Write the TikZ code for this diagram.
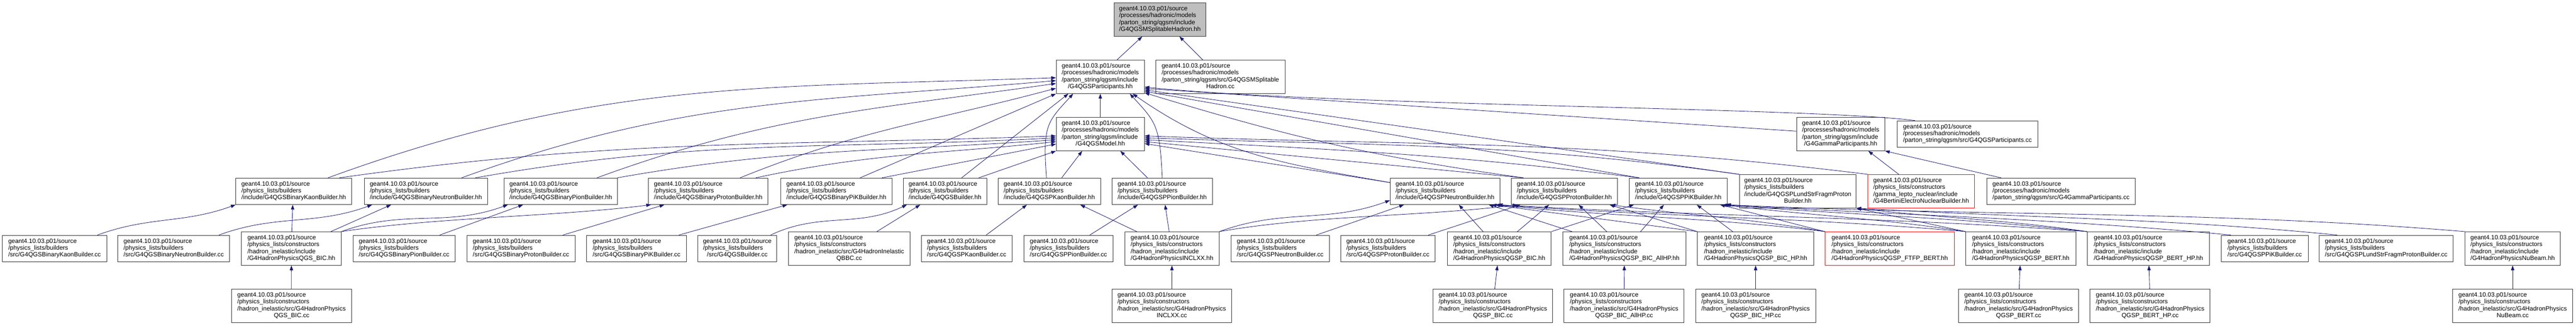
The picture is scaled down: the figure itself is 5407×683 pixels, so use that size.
\documentclass[tikz,border=0pt]{standalone}
\usepackage{fontspec}
\setmainfont{Liberation Sans}
\usepackage{tikz}
\usepackage{xcolor}
\usetikzlibrary{arrows.meta}
\definecolor{edgeblue}{HTML}{191970}
\definecolor{rootgray}{HTML}{BFBFBF}
\tikzstyle{filebox} = [draw=black!80,fill=white,rectangle,line width=1pt,
  inner xsep=3pt,inner ysep=6pt,font=\fontsize{13}{14.5}\selectfont]
\tikzstyle{rootbox} = [filebox,fill=rootgray]
\tikzstyle{cutbox} = [filebox,draw=red]
\tikzstyle{incl} = [draw=edgeblue,line width=0.9pt,-{Triangle[length=10pt,width=7pt]}]
% left aligned lines, last line centred
\newcommand{\flab}[2]{\begin{tabular}{@{}l@{}}#1\\\multicolumn{1}{@{}c@{}}{#2}\end{tabular}}
\newcommand{\gpath}{geant4.10.03.p01/source}
\newcommand{\qgsmpath}{\gpath\\/processes/hadronic/models}
\newcommand{\bldpath}{\gpath\\/physics\_lists/builders}
\newcommand{\cstpath}{\gpath\\/physics\_lists/constructors\\/hadron\_inelastic}

\begin{document}
\begin{tikzpicture}[x=1pt,y=1pt]
    \useasboundingbox[fill=white] (0,0) rectangle (5407,683);
    % headers
    \node [rootbox, minimum width=193] (splith) at (2434.5,642) {\flab{\qgsmpath\\/parton\_string/qgsm/include}{/G4QGSMSplitableHadron.hh}};
    \node [filebox, minimum width=185] (parth) at (2309.5,522) {\flab{\qgsmpath\\/parton\_string/qgsm/include}{/G4QGSParticipants.hh}};
    \node [filebox, minimum width=271] (splitcc) at (2561.5,522) {\flab{\qgsmpath\\/parton\_string/qgsm/src/G4QGSMSplitable}{Hadron.cc}};
    \node [filebox, minimum width=185] (modelh) at (2309.5,402) {\flab{\qgsmpath\\/parton\_string/qgsm/include}{/G4QGSModel.hh}};
    \node [filebox, minimum width=185] (gammah) at (3863.5,402) {\flab{\qgsmpath\\/parton\_string/qgsm/include}{/G4GammaParticipants.hh}};
    \node [filebox, minimum width=295] (partcc) at (4129.5,402) {\flab{\qgsmpath}{/parton\_string/qgsm/src/G4QGSParticipants.cc}};
    % builders
    \node [filebox, minimum width=243] (bkaonh) at (616.5,282) {\flab{\bldpath}{/include/G4QGSBinaryKaonBuilder.hh}};
    \node [filebox, minimum width=258] (bneuth) at (894,282) {\flab{\bldpath}{/include/G4QGSBinaryNeutronBuilder.hh}};
    \node [filebox, minimum width=238] (bpionh) at (1177,282) {\flab{\bldpath}{/include/G4QGSBinaryPionBuilder.hh}};
    \node [filebox, minimum width=251] (bproth) at (1486.5,282) {\flab{\bldpath}{/include/G4QGSBinaryProtonBuilder.hh}};
    \node [filebox, minimum width=233] (bpikh) at (1755.5,282) {\flab{\bldpath}{/include/G4QGSBinaryPiKBuilder.hh}};
    \node [filebox, minimum width=175] (qgsbh) at (1983.5,282) {\flab{\bldpath}{/include/G4QGSBuilder.hh}};
    \node [filebox, minimum width=215] (pkaonh) at (2202.5,282) {\flab{\bldpath}{/include/G4QGSPKaonBuilder.hh}};
    \node [filebox, minimum width=211] (ppionh) at (2439.5,282) {\flab{\bldpath}{/include/G4QGSPPionBuilder.hh}};
    \node [filebox, minimum width=230] (pneuth) at (3033,282) {\flab{\bldpath}{/include/G4QGSPNeutronBuilder.hh}};
    \node [filebox, minimum width=223] (proth) at (3283.5,282) {\flab{\bldpath}{/include/G4QGSPProtonBuilder.hh}};
    \node [filebox, minimum width=205] (ppikh) at (3522.5,282) {\flab{\bldpath}{/include/G4QGSPPiKBuilder.hh}};
    \node [filebox, minimum width=245] (plundh) at (3773.5,282) {\flab{\bldpath\\/include/G4QGSPLundStrFragmProton}{Builder.hh}};
    \node [cutbox, minimum width=223] (bertinih) at (4032.5,282) {\flab{\gpath\\/physics\_lists/constructors\\/gamma\_lepto\_nuclear/include}{/G4BertiniElectroNuclearBuilder.hh}};
    \node [filebox, minimum width=312] (gammacc) at (4326,282) {\flab{\qgsmpath}{/parton\_string/qgsm/src/G4GammaParticipants.cc}};
    % builder sources and physics constructors
    \node [filebox, minimum width=219] (bkaoncc) at (114.5,162) {\flab{\bldpath}{/src/G4QGSBinaryKaonBuilder.cc}};
    \node [filebox, minimum width=235] (bneutcc) at (364.5,162) {\flab{\bldpath}{/src/G4QGSBinaryNeutronBuilder.cc}};
    \node [filebox, minimum width=209] (qgsbich) at (611.5,162) {\flab{\cstpath/include}{/G4HadronPhysicsQGS\_BIC.hh}};
    \node [filebox, minimum width=214] (bpioncc) at (848,162) {\flab{\bldpath}{/src/G4QGSBinaryPionBuilder.cc}};
    \node [filebox, minimum width=227] (bprotcc) at (1093.5,162) {\flab{\bldpath}{/src/G4QGSBinaryProtonBuilder.cc}};
    \node [filebox, minimum width=210] (bpikcc) at (1336,162) {\flab{\bldpath}{/src/G4QGSBinaryPiKBuilder.cc}};
    \node [filebox, minimum width=165] (qgsbcc) at (1547.5,162) {\flab{\bldpath}{/src/G4QGSBuilder.cc}};
    \node [filebox, minimum width=255] (qbbccc) at (1782.5,162) {\flab{\cstpath/src/G4HadronInelastic}{QBBC.cc}};
    \node [filebox, minimum width=190] (pkaoncc) at (2029,162) {\flab{\bldpath}{/src/G4QGSPKaonBuilder.cc}};
    \node [filebox, minimum width=187] (ppioncc) at (2242.5,162) {\flab{\bldpath}{/src/G4QGSPPionBuilder.cc}};
    \node [filebox, minimum width=198] (inclxxh) at (2460,162) {\flab{\cstpath/include}{/G4HadronPhysicsINCLXX.hh}};
    \node [filebox, minimum width=206] (pneutcc) at (2687,162) {\flab{\bldpath}{/src/G4QGSPNeutronBuilder.cc}};
    \node [filebox, minimum width=198] (protcc) at (2913,162) {\flab{\bldpath}{/src/G4QGSPProtonBuilder.cc}};
    \node [filebox, minimum width=218] (qgspbich) at (3147,162) {\flab{\cstpath/include}{/G4HadronPhysicsQGSP\_BIC.hh}};
    \node [filebox, minimum width=259] (allhph) at (3409.5,162) {\flab{\cstpath/include}{/G4HadronPhysicsQGSP\_BIC\_AllHP.hh}};
    \node [filebox, minimum width=244] (bichph) at (3685,162) {\flab{\cstpath/include}{/G4HadronPhysicsQGSP\_BIC\_HP.hh}};
    \node [cutbox, minimum width=271] (ftfph) at (3966.5,162) {\flab{\cstpath/include}{/G4HadronPhysicsQGSP\_FTFP\_BERT.hh}};
    \node [filebox, minimum width=231] (berth) at (4241.5,162) {\flab{\cstpath/include}{/G4HadronPhysicsQGSP\_BERT.hh}};
    \node [filebox, minimum width=257] (berthph) at (4509.5,162) {\flab{\cstpath/include}{/G4HadronPhysicsQGSP\_BERT\_HP.hh}};
    \node [filebox, minimum width=183] (ppikcc) at (4753.5,162) {\flab{\bldpath}{/src/G4QGSPPiKBuilder.cc}};
    \node [filebox, minimum width=281] (plundcc) at (5008.5,162) {\flab{\bldpath}{/src/G4QGSPLundStrFragmProtonBuilder.cc}};
    \node [filebox, minimum width=200] (nubeamh) at (5274,162) {\flab{\cstpath/include}{/G4HadronPhysicsNuBeam.hh}};
    % physics constructor sources
    \node [filebox, minimum width=252] (qgsbiccc) at (612,42) {\flab{\cstpath/src/G4HadronPhysics}{QGS\_BIC.cc}};
    \node [filebox, minimum width=251] (inclxxcc) at (2459.5,42) {\flab{\cstpath/src/G4HadronPhysics}{INCLXX.cc}};
    \node [filebox, minimum width=251] (qgspbiccc) at (3133.5,42) {\flab{\cstpath/src/G4HadronPhysics}{QGSP\_BIC.cc}};
    \node [filebox, minimum width=252] (allhpcc) at (3409,42) {\flab{\cstpath/src/G4HadronPhysics}{QGSP\_BIC\_AllHP.cc}};
    \node [filebox, minimum width=252] (bichpcc) at (3685,42) {\flab{\cstpath/src/G4HadronPhysics}{QGSP\_BIC\_HP.cc}};
    \node [filebox, minimum width=252] (bertcc) at (4237,42) {\flab{\cstpath/src/G4HadronPhysics}{QGSP\_BERT.cc}};
    \node [filebox, minimum width=252] (berthpcc) at (4513,42) {\flab{\cstpath/src/G4HadronPhysics}{QGSP\_BERT\_HP.cc}};
    \node [filebox, minimum width=252] (nubeamcc) at (5274,42) {\flab{\cstpath/src/G4HadronPhysics}{NuBeam.cc}};

    % to the splitable hadron header
    \draw[incl] ([xshift=35pt]parth.north) -- ([xshift=-37pt]splith.south);
    \draw[incl] ([xshift=-37pt]splitcc.north) -- ([xshift=41pt]splith.south);
    % to G4QGSParticipants.hh
    \draw[incl] (modelh) -- (parth);
    \draw[incl] ([xshift=72pt]bkaonh.north) .. controls +(568,207) and +(-604,-21) .. ([yshift=-2pt]parth.west);
    \draw[incl] ([xshift=75pt]bneuth.north) .. controls +(465,169) and +(-493,-43) .. ([yshift=-8pt]parth.west);
    \draw[incl] ([xshift=76pt]bpionh.north) .. controls +(362,132) and +(-381,-54) .. ([yshift=-14pt]parth.west);
    \draw[incl] ([xshift=67pt]bproth.north) .. controls +(250,101) and +(-261,-70) .. ([yshift=-24pt]parth.west);
    \draw[incl] ([xshift=50pt]bpikh.north) -- (parth.south west);
    \draw[incl] ([xshift=35pt]qgsbh.north) -- ([xshift=-67pt]parth.south);
    \draw[incl] ([xshift=-6pt]pkaonh.north) .. controls +(-8,110) and +(-55,-60) .. ([xshift=-57pt]parth.south);
    \draw[incl] (ppionh.north) .. controls +(-5,110) and +(55,-60) .. ([xshift=62pt]parth.south);
    \draw[incl] ([yshift=-10pt]pneuth.north west) .. controls +(-221,39) and +(183,-128) .. ([xshift=68pt]parth.south);
    \draw[incl] ([xshift=-86pt]proth.north) .. controls +(-316,44) and +(305,-93) .. ([yshift=2pt]parth.south east);
    \draw[incl] ([xshift=-82pt]ppikh.north) -- ([yshift=5pt]parth.south east);
    \draw[incl] (plundh.north west) -- ([yshift=8pt]parth.south east);
    \draw[incl] ([yshift=6pt]gammah.west) -- ([yshift=11pt]parth.south east);
    \draw[incl] ([xshift=-110pt]partcc.north) .. controls +(-220,28) and +(400,-40) .. ([yshift=14pt]parth.south east);
    % to G4QGSModel.hh
    \draw[incl] ([xshift=96pt]bkaonh.north) .. controls +(584,82) and +(-590,-21) .. ([yshift=-4pt]modelh.west);
    \draw[incl] ([xshift=104pt]bneuth.north) .. controls +(471,83) and +(-477,-25) .. ([yshift=-8pt]modelh.west);
    \draw[incl] ([xshift=119pt]bpionh.north) .. controls +(357,63) and +(-361,-25) .. ([yshift=-12pt]modelh.west);
    \draw[incl] ([xshift=100pt]bproth.north) .. controls +(244,52) and +(-248,-26) .. ([yshift=-16pt]modelh.west);
    \draw[incl] ([xshift=96pt]bpikh.north) -- ([yshift=-21pt]modelh.west);
    \draw[incl] ([xshift=71pt]qgsbh.north) -- (modelh.south west);
    \draw[incl] ([xshift=26pt]pkaonh.north) -- ([xshift=-38pt]modelh.south);
    \draw[incl] ([xshift=-31pt]ppionh.north) -- ([xshift=42pt]modelh.south);
    \draw[incl] ([yshift=-10pt]pneuth.north west) -- ([yshift=-20pt]modelh.east);
    \draw[incl] ([xshift=-86pt]proth.north) -- ([yshift=-16pt]modelh.east);
    \draw[incl] ([xshift=-82pt]ppikh.north) .. controls +(-405,50) and +(407,-21) .. ([yshift=-12pt]modelh.east);
    \draw[incl] (plundh.north west) .. controls +(-485,68) and +(490,-17) .. ([yshift=-8pt]modelh.east);
    \draw[incl] (bertinih.north west) .. controls +(-592,73) and +(596,-21) .. ([yshift=-4pt]modelh.east);
    % to G4GammaParticipants.hh
    \draw[incl] ([xshift=-126pt]gammacc.north) -- (gammah.south east);
    \draw[incl] ([xshift=-47pt]bertinih.north) -- ([xshift=-35pt]gammah.south east);
    % to the QGS binary builders
    \draw[incl] ([xshift=90pt]bkaoncc.north) .. controls +(110,40) and +(-110,-40) .. (bkaonh.south west);
    \draw[incl] ([xshift=95pt]bneutcc.north) .. controls +(120,44) and +(-120,-44) .. ([xshift=-113pt]bneuth.south);
    \draw[incl] ([xshift=1pt]qgsbich.north) -- ([xshift=-2pt]bkaonh.south);
    \draw[incl] ([xshift=83pt]qgsbich.north) -- ([xshift=-73pt]bneuth.south);
    \draw[incl] (qgsbich.north east) .. controls +(131,48) and +(-131,-48) .. ([xshift=-111pt]bpionh.south);
    \draw[incl] (qgsbich.north east) .. controls +(200,30) and +(-200,-25) .. ([xshift=-120pt]bproth.south);
    \draw[incl] ([xshift=75pt]bpioncc.north) -- ([xshift=-79pt]bpionh.south);
    \draw[incl] ([xshift=88pt]bprotcc.north) -- ([xshift=-92pt]bproth.south);
    \draw[incl] ([xshift=89pt]bpikcc.north) -- ([xshift=-103pt]bpikh.south);
    \draw[incl] ([xshift=70pt]qgsbcc.north) .. controls +(104,49) and +(-104,-49) .. ([xshift=-80pt]qgsbh.south);
    \draw[incl] ([xshift=58pt]qbbccc.north) -- ([xshift=-52pt]qgsbh.south);
    % to the QGSP builders
    \draw[incl] ([xshift=41pt]pkaoncc.north) -- ([xshift=-47pt]pkaonh.south);
    \draw[incl] ([xshift=45pt]ppioncc.north) -- ([xshift=-51pt]ppionh.south);
    \draw[incl] ([xshift=-74pt]inclxxh.north) -- ([xshift=65pt]pkaonh.south);
    \draw[incl] ([xshift=-6pt]inclxxh.north) -- ([xshift=6pt]ppionh.south);
    \draw[incl] (inclxxh.north east) .. controls +(134,49) and +(-134,-49) .. ([yshift=-19pt]pneuth.west);
    \draw[incl] (inclxxh.north east) .. controls +(200,35) and +(-200,-25) .. ([xshift=-98pt]proth.south);
    \draw[incl] ([xshift=76pt]pneutcc.north) -- ([xshift=-86pt]pneuth.south);
    \draw[incl] ([xshift=85pt]protcc.north) -- ([xshift=-92pt]proth.south);
    \draw[incl] ([xshift=-34pt]qgspbich.north) -- ([xshift=29pt]pneuth.south);
    \draw[incl] ([xshift=38pt]qgspbich.north) -- ([xshift=-32pt]proth.south);
    \draw[incl] (qgspbich.north east) -- ([xshift=-93pt]ppikh.south);
    \draw[incl] ([xshift=-110pt]allhph.north) -- ([xshift=92pt]pneuth.south);
    \draw[incl] ([xshift=-37pt]allhph.north) -- ([xshift=30pt]proth.south);
    \draw[incl] ([xshift=34pt]allhph.north) -- ([xshift=-30pt]ppikh.south);
    \draw[incl] (bichph.north west) -- ([xshift=98pt]pneuth.south);
    \draw[incl] (bichph.north west) -- ([xshift=95pt]proth.south);
    \draw[incl] ([xshift=-48pt]bichph.north) -- ([xshift=39pt]ppikh.south);
    \draw[incl] (ftfph.north west) .. controls +(-80,20) and +(80,-20) .. ([xshift=88pt]ppikh.south);
    \draw[incl] (ftfph.north west) .. controls +(-160,28) and +(160,-22) .. ([xshift=97pt]proth.south);
    \draw[incl] (ftfph.north west) .. controls +(-240,30) and +(240,-25) .. ([xshift=105pt]pneuth.south);
    \draw[incl] (berth.north west) -- (plundh.south east);
    \draw[incl] (berth.north west) .. controls +(-180,28) and +(180,-22) .. ([xshift=92pt]ppikh.south);
    \draw[incl] (berth.north west) .. controls +(-340,30) and +(340,-25) .. ([xshift=108pt]pneuth.south);
    \draw[incl] (berthph.north west) .. controls +(-170,25) and +(170,-20) .. (plundh.south east);
    \draw[incl] (berthph.north west) .. controls +(-270,30) and +(270,-22) .. ([xshift=96pt]ppikh.south);
    \draw[incl] (berthph.north west) .. controls +(-430,32) and +(430,-25) .. ([xshift=111pt]pneuth.south);
    \draw[incl] ([xshift=-71pt]ppikcc.north) .. controls +(-370,35) and +(370,-22) .. ([xshift=99pt]ppikh.south);
    \draw[incl] ([xshift=-103pt]plundcc.north) .. controls +(-350,35) and +(350,-20) .. (plundh.south east);
    \draw[incl] (nubeamh.north west) .. controls +(-540,45) and +(540,-25) .. ([xshift=101pt]ppikh.south);
    % to the physics constructor headers
    \draw[incl] (qgsbiccc) -- (qgsbich);
    \draw[incl] (inclxxcc) -- (inclxxh);
    \draw[incl] (qgspbiccc) -- (qgspbich);
    \draw[incl] (allhpcc) -- (allhph);
    \draw[incl] (bichpcc) -- (bichph);
    \draw[incl] (bertcc) -- (berth);
    \draw[incl] (berthpcc) -- (berthph);
    \draw[incl] (nubeamcc) -- (nubeamh);
\end{tikzpicture}
\end{document}
